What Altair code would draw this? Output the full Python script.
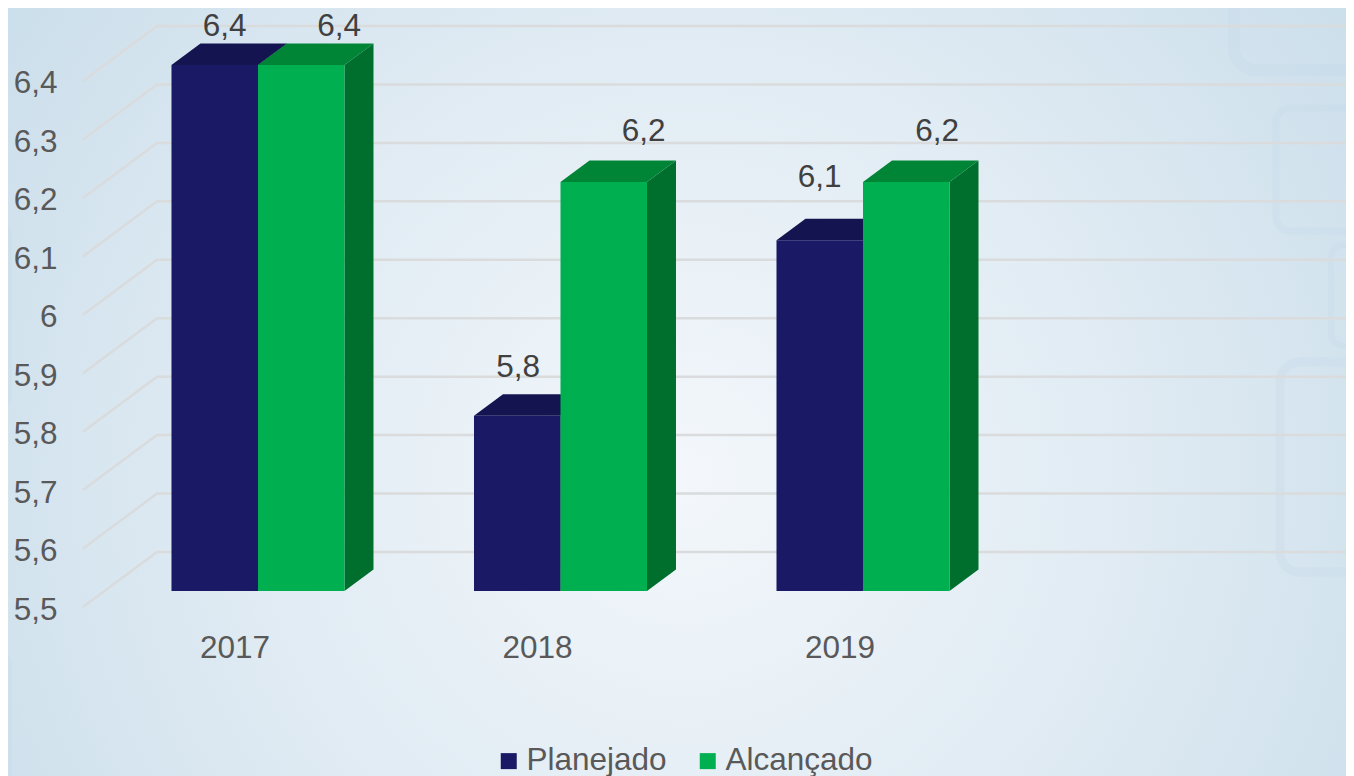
import altair as alt
import pandas as pd

years = [2017, 2018, 2019]
planejado = [6.4, 5.8, 6.1]
alcancado = [6.4, 6.2, 6.2]
series_names = ["Planejado", "Alcançado"]
front_colors = ["#191966", "#00B050"]
top_colors = ["#141450", "#008536"]
side_colors = ["#12124A", "#006F2E"]
y_levels = [5.5, 5.6, 5.7, 5.8, 5.9, 6.0, 6.1, 6.2, 6.3, 6.4]

# label nudges (px right, px up) relative to the bar's top-centre
nudges = {"Planejado": [(10, 38), (1, 48), (0, 62)],
          "Alcançado": [(38, 38), (40, 50), (31, 50)]}

PX_X = 302.5      # pixels per year
PX_Y = 584.45     # pixels per unit of value
BAR_W = 86.5 / PX_X
DEPTH_X = 29 / PX_X
DEPTH_Y = 21.5 / PX_Y
BASE = 5.5
FONT = "Liberation Sans"
FS = 31.5

x_scale = alt.Scale(domain=[2016.1736, 2020.5967], nice=False, zero=False)
y_scale = alt.Scale(domain=[5.1835, 6.4975], nice=False, zero=False)
x_axis = alt.Axis(values=years, format="d", grid=False, domain=False, ticks=False, zindex=1,
                  labelFontSize=FS, labelFont=FONT, labelColor="#595959",
                  labelBaseline="top", labelPadding=0, offset=-144,
                  labelOffset=-23.5, labelOverlap=False, labelFlush=False)
y_axis = alt.Axis(values=y_levels, grid=False, domain=False, ticks=False, zindex=1,
                  labelFontSize=FS, labelFont=FONT, labelColor="#595959",
                  labelPadding=0, offset=-49, labelOffset=19, labelOverlap=False,
                  labelFlush=False,
                  labelExpr="replace(toString(round(datum.value*10)/10),'.',',')")
X = lambda f, **k: alt.X(f, scale=x_scale, title=None, axis=x_axis, **k)
Y = lambda f, **k: alt.Y(f, scale=y_scale, title=None, axis=y_axis, **k)

# bar tables
bars = []
for name, vals in zip(series_names, [planejado, alcancado]):
    for yr, v, (nx, ny) in zip(years, vals, nudges[name]):
        left = yr - BAR_W if name == "Planejado" else yr
        bars.append(dict(series=name, year=yr, value=v, left=left, right=left + BAR_W,
                         base=BASE, lx=left + BAR_W / 2 + nx / PX_X, ly=v + ny / PX_Y,
                         label=str(v).replace(".", ",")))
bars = pd.DataFrame(bars)

layers = []

# background
bg = alt.Chart(pd.DataFrame({"a": [0]})).mark_rect(
    fill=alt.RadialGradient(gradient="radial", x1=0.5, y1=0.56, x2=0.5, y2=0.56, r1=0, r2=0.72,
                            stops=[alt.GradientStop(offset=0, color="#F3F7FB"),
                                   alt.GradientStop(offset=0.45, color="#E0EBF3"),
                                   alt.GradientStop(offset=1, color="#C2D9E8")])
).encode(x=alt.value(-10), x2=alt.value(1360), y=alt.value(-10), y2=alt.value(780))
layers.append(bg)

# faint background shapes
for x0, x1, y0, y1, w, r in [(1234, 1420, -60, 70, 12, 22), (1276, 1420, 108, 231, 7, 14),
                             (1331, 1420, 245, 346, 6, 12), (1280, 1420, 362, 572, 9, 20),
                             (-60, 8, 222, 408, 8, 14), (-60, 8, 652, 840, 8, 14)]:
    layers.append(alt.Chart(pd.DataFrame({"a": [0]})).mark_rect(
        fill="transparent", stroke="#BFD6E6", strokeWidth=w, opacity=0.2, cornerRadius=r
    ).encode(x=alt.value(x0 - 8), x2=alt.value(x1 - 8), y=alt.value(y0 - 8), y2=alt.value(y1 - 8)))

# wall gridlines
grid = []
for lv in y_levels:
    grid += [dict(level=lv, o=0, x=2017 + (83 - 258) / PX_X, y=lv - 16 / PX_Y),
             dict(level=lv, o=1, x=2017 + (157 - 258) / PX_X, y=lv + 39 / PX_Y),
             dict(level=lv, o=2, x=2017 + (1360 - 258) / PX_X, y=lv + 39 / PX_Y)]
layers.append(alt.Chart(pd.DataFrame(grid)).mark_line(color="#D9DBDC", strokeWidth=2.5).encode(
    x=X("x:Q"), y=Y("y:Q"), detail="level:N", order="o:Q"))

# 3D faces
for i, name in enumerate(series_names):
    rows = bars[bars.series == name]
    sides, tops = [], []
    for _, b in rows.iterrows():
        for t in (0, 1):
            sides.append(dict(id=b.year, x=b.right + t * DEPTH_X,
                              y=b.value + t * DEPTH_Y, y2=b.base + t * DEPTH_Y))
            tops.append(dict(id=b.year, y=b.value + t * DEPTH_Y,
                             x=b.left + t * DEPTH_X, x2=b.right + t * DEPTH_X))
    layers.append(alt.Chart(pd.DataFrame(sides)).mark_area(color=side_colors[i]).encode(
        x=X("x:Q"), y=Y("y:Q", stack=None), y2="y2:Q", detail="id:N"))
    layers.append(alt.Chart(pd.DataFrame(tops)).mark_area(color=top_colors[i], orient="horizontal").encode(
        y=Y("y:Q"), x=X("x:Q", stack=None), x2="x2:Q", detail="id:N"))
    layers.append(alt.Chart(rows).mark_rect().encode(
        x=X("left:Q"), x2="right:Q", y=Y("value:Q"), y2="base:Q",
        color=alt.Color("series:N",
                        scale=alt.Scale(domain=series_names, range=front_colors),
                        legend=alt.Legend(title=None, orient="none", direction="horizontal",
                                          columns=2, legendX=485, legendY=737, padding=0,
                                          symbolType="square", symbolSize=256, symbolStrokeWidth=0,
                                          labelFontSize=FS, labelFont=FONT, labelColor="#595959",
                                          labelOffset=2, columnPadding=25))))

# value labels
layers.append(alt.Chart(bars).mark_text(fontSize=FS, font=FONT, color="#404040", baseline="middle").encode(
    x=X("lx:Q"), y=Y("ly:Q"), text="label:N"))

chart = alt.layer(*layers).resolve_scale(color="shared").properties(
    width=1338, height=768, padding=0, autosize=alt.AutoSizeParams(type="none"), background="white"
).configure_view(stroke=None)

chart.save("out.html", embed_options={"renderer": "svg", "actions": False})
